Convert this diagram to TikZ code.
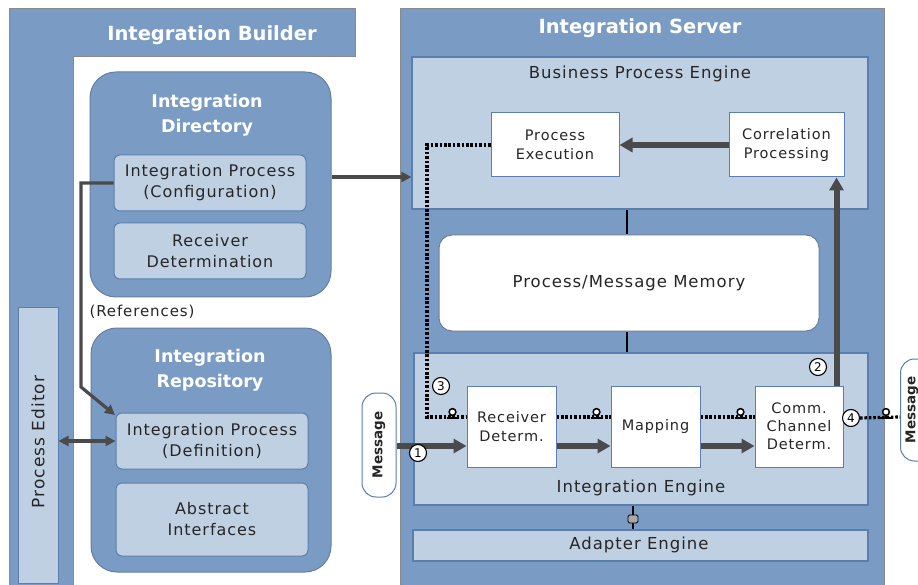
\documentclass[tikz,border=0pt]{standalone}
\usepackage{fontspec}
\setmainfont{DejaVu Sans}
\newfontfamily\bodyfont{DejaVu Sans}[LetterSpace=6]
\usetikzlibrary{arrows.meta,calc}
\definecolor{frameblue}{HTML}{7A9CC4}
\definecolor{lightblue}{HTML}{C0D0E3}
\definecolor{edgeblue}{HTML}{5A7EAE}
\definecolor{framegray}{HTML}{8A8A8A}
\definecolor{arrowgray}{HTML}{4A4A4A}
\definecolor{txt}{HTML}{262626}
\definecolor{pluggray}{HTML}{A8A8A8}
\begin{document}
\begin{tikzpicture}[x=1pt,y=-1pt,
  font=\bodyfont\fontsize{16}{21}\selectfont,
  lbox/.style={draw=edgeblue, line width=1pt, fill=lightblue, rounded corners=6pt,
    minimum width=192pt, minimum height=56pt, align=center, text=txt, inner sep=0pt},
  wbox/.style={draw=edgeblue, line width=1pt, fill=white, align=center, text=txt,
    inner sep=0pt, font=\bodyfont\fontsize{14.5}{19}\selectfont},
  engine/.style={draw=edgeblue, line width=1.2pt, fill=lightblue, inner sep=0pt},
  bigbox/.style={draw=edgeblue!70!gray, line width=1pt, fill=frameblue, rounded corners=26pt, inner sep=0pt},
  titletext/.style={text=white, font=\normalfont\bfseries\fontsize{19.5}{24}\selectfont},
  subtitle/.style={text=white, align=center, font=\normalfont\bfseries\fontsize{17.5}{25}\selectfont},
  lbl/.style={text=txt, font=\bodyfont\fontsize{16.5}{20}\selectfont},
  fatarrow/.style={draw=arrowgray, line width=6pt, -{Triangle[length=13pt,width=14pt]}},
  thinarrow/.style={draw=arrowgray, line width=3.2pt, -{Triangle[length=10pt,width=10pt]}},
  dotline/.style={draw=black, line width=3.2pt, dash pattern=on 2.6pt off 1.8pt},
  num/.style={circle, draw=black, line width=1.1pt, fill=white, inner sep=0pt,
    minimum size=17pt, text=black, font=\normalfont\fontsize{12}{12}\selectfont},
  msg/.style={draw=edgeblue, line width=1pt, fill=white, rounded corners=14pt,
    minimum width=34pt, minimum height=104pt, inner sep=0pt},
  msgtext/.style={rotate=90, text=txt, font=\normalfont\bfseries\fontsize{13.5}{14}\selectfont},
  lolli/.pic={
    \draw[black, line width=2pt] (-6,0.5) -- (6,0.5);
    \draw[black, line width=1.5pt] (0,0) -- (0,-2.5);
    \draw[black, line width=1.5pt, fill=white] (0,-5) circle (3.4pt);
  }
]
\useasboundingbox (0,0) rectangle (918,585);
\clip (0,0) rectangle (918,585);
\fill[white] (0,0) rectangle (918,585);

% ---------------- Integration Builder ----------------
\draw[fill=frameblue, draw=framegray, line width=1pt]
  (9,9) -- (355,9) -- (355,57) -- (73,57) -- (73,600) -- (9,600) -- cycle;
\node[titletext] (ibtitle) at (212,35) {Integration Builder};

\node[draw=edgeblue, line width=1pt, fill=lightblue, minimum width=40pt,
  minimum height=276pt, inner sep=0pt] (pe) at (38,445) {};
\node[rotate=90, text=txt, font=\bodyfont\fontsize{17}{20}\selectfont] (petext) at (38,442) {Process Editor};

\node[bigbox, minimum width=241pt, minimum height=225pt] (dir) at (210.5,184.5) {};
\node[subtitle] (dirtitle) at (207,115) {Integration\\Directory};
\node[lbox] (ipconf) at (210,183) {Integration Process\\(Configuration)};
\node[lbox] (recdet) at (210,251) {Receiver\\Determination};

\node[text=txt, font=\bodyfont\fontsize{15}{18}\selectfont] (refs) at (142,312) {(References)};

\node[bigbox, minimum width=240pt, minimum height=244pt] (repo) at (211,450) {};
\node[subtitle] (repotitle) at (210,370) {Integration\\Repository};
\node[lbox] (ipdef) at (212,441) {Integration Process\\(Definition)};
\node[lbox, minimum height=73pt] (absint) at (212,519.5) {Abstract\\Interfaces};

% ---------------- Integration Server ----------------
\draw[fill=frameblue, draw=framegray, line width=1pt] (400,9) rectangle (884,600);
\node[titletext] (istitle) at (640,28) {Integration Server};

\node[engine, minimum width=456pt, minimum height=152pt] (bpe) at (640,133) {};
\node[lbl] (bpelabel) at (640,74) {Business Process Engine};
\node[wbox, minimum width=128pt, minimum height=64pt] (pex) at (555,145) {Process\\Execution};
\node[wbox, minimum width=115pt, minimum height=64pt] (corr) at (786.5,145) {Correlation\\Processing};

\node[draw=edgeblue!60!gray, line width=1pt, fill=white, rounded corners=13pt,
  minimum width=380pt, minimum height=96pt, text=txt, font=\bodyfont\fontsize{16.5}{20}\selectfont] (mem) at (629,283) {Process/Message Memory};

\node[engine, minimum width=454pt, minimum height=152pt] (ie) at (641,429) {};
\node[lbl] (ielabel) at (641,488) {Integration Engine};
\node[wbox, minimum width=89pt, minimum height=81pt] (rd) at (511.5,426.5) {Receiver\\Determ.};
\node[wbox, minimum width=89pt, minimum height=81pt] (map) at (655.5,426.5) {Mapping};
\node[wbox, minimum width=88pt, minimum height=81pt, font=\bodyfont\fontsize{14.5}{18}\selectfont] (ccd) at (799,426.5) {Comm.\\Channel\\Determ.};

\node[engine, minimum width=455pt, minimum height=31pt] (ae) at (640.5,545.5) {};
\node[lbl] (aelabel) at (639,545) {Adapter Engine};

% messages
\node[msg] (msgL) at (379,445) {};
\node[msgtext] (msgLt) at (msgL) {Message};
\node[msg, minimum height=102pt] (msgR) at (917.5,410) {};
\node[msgtext] (msgRt) at (912,410) {Message};

% ---------------- connectors ----------------
\coordinate (c177) at (0,177);
\draw[thinarrow] (dir.east |- c177) -- (bpe.west |- c177);

\coordinate (r1) at (81,183);
\coordinate (r2) at (81,387);
\coordinate (refend) at (115,415);
\draw[thinarrow] (ipconf.west) -- (r1) -- (r2) -- (refend);

\draw[draw=arrowgray, line width=3.2pt,
  {Triangle[length=10pt,width=10pt]}-{Triangle[length=10pt,width=10pt]}]
  (pe.east |- ipdef.west) -- (ipdef.west);

\coordinate (mx) at (627,0);
\draw[black, line width=1.3pt] (mx |- bpe.south) -- (mx |- mem.north);
\draw[black, line width=1.3pt] (mx |- mem.south) -- (mx |- ie.north);
\coordinate (ax) at (633,0);
\draw[black, line width=1.3pt] (ax |- ie.south) -- (ax |- ae.north);
\node[draw=black, line width=0.8pt, fill=pluggray, rounded corners=1.5pt,
  minimum width=10pt, minimum height=8pt, inner sep=0pt] (plug) at (633,519) {};

\draw[fatarrow] (corr.west) -- (pex.east);
\coordinate (up0) at ([xshift=-7pt]ccd.north east);
\draw[fatarrow] (up0) -- (up0 |- corr.south);

\coordinate (a446) at (0,446);
\draw[fatarrow] (msgL.east |- a446) -- (rd.west |- a446);
\draw[fatarrow] (rd.east |- a446) -- (map.west |- a446);
\draw[fatarrow] (map.east |- a446) -- (ccd.west |- a446);

\coordinate (d0) at (427,145);
\coordinate (d1) at (427,417);
\draw[dotline] (pex.west) -- (d0) -- (d1) -- (d1 -| rd.west);
\draw[dotline] (rd.east |- d1) -- (map.west |- d1);
\draw[dotline] (map.east |- d1) -- (ccd.west |- d1);

\node[num] (n4) at (851,418) {4};
\draw[dotline] (n4.east) -- (msgR.west |- d1);

\pic at ($(d1 -| rd.west)+(-14,0)$) {lolli};
\pic at ($(d1 -| map.west)+(-14,0)$) {lolli};
\pic at ($(d1 -| ccd.west)+(-14,0)$) {lolli};
\pic at ($(d1 -| msgR.west)+(-14,0)$) {lolli};

\node[num] (n1) at (418,453) {1};
\node[num] (n2) at (818,367) {2};
\node[num] (n3) at (441,386) {3};
\end{tikzpicture}
\end{document}
